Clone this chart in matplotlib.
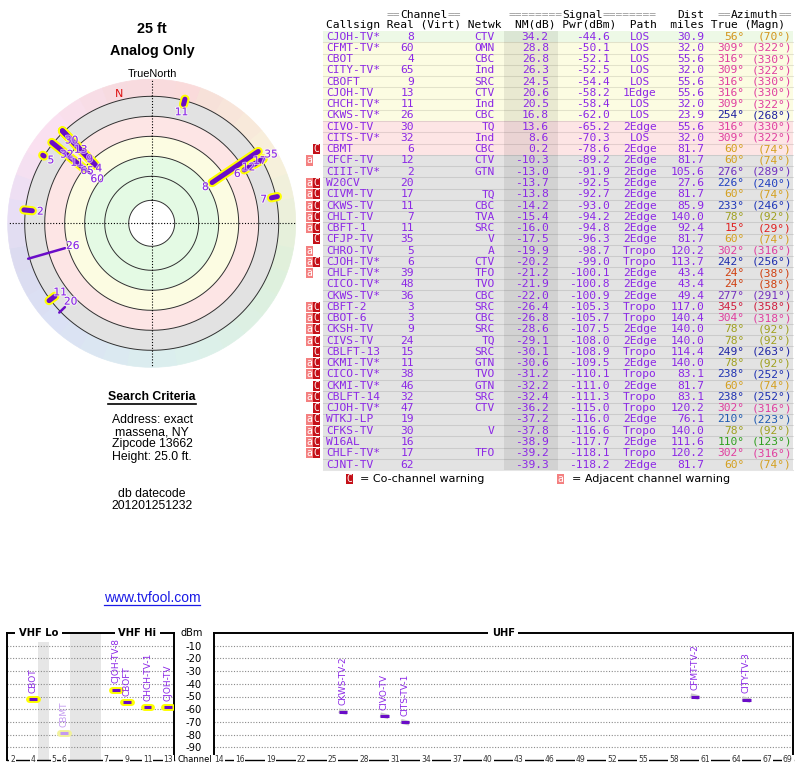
import numpy as np
import matplotlib
matplotlib.use("Agg")
import matplotlib.pyplot as plt
from matplotlib.patches import Rectangle
import matplotlib.patheffects as pe
from matplotlib.colors import to_rgb

# ---------------- data ----------------
callsigns = ["CJOH-TV*", "CFMT-TV*", "CBOT", "CITY-TV*", "CBOFT", "CJOH-TV", "CHCH-TV*", "CKWS-TV*",
             "CIVO-TV", "CITS-TV*", "CBMT", "CFCF-TV", "CIII-TV*", "W20CV", "CIVM-TV", "CKWS-TV",
             "CHLT-TV", "CBFT-1", "CFJP-TV", "CHRO-TV", "CJOH-TV*", "CHLF-TV*", "CICO-TV*", "CKWS-TV*",
             "CBFT-2", "CBOT-6", "CKSH-TV", "CIVS-TV", "CBLFT-13", "CKMI-TV*", "CICO-TV*", "CKMI-TV*",
             "CBLFT-14", "CJOH-TV*", "WTKJ-LP", "CFKS-TV", "W16AL", "CHLF-TV*", "CJNT-TV"]
real = [8, 60, 4, 65, 9, 13, 11, 26, 30, 32, 6, 12, 2, 20, 17, 11, 7, 11, 35, 5, 6, 39, 48, 36,
        3, 3, 9, 24, 15, 11, 38, 46, 32, 47, 19, 30, 16, 17, 62]
netwk = ["CTV", "OMN", "CBC", "Ind", "SRC", "CTV", "Ind", "CBC", "TQ", "Ind", "CBC", "CTV", "GTN", "",
         "TQ", "CBC", "TVA", "SRC", "V", "A", "CTV", "TFO", "TVO", "CBC", "SRC", "CBC", "SRC", "TQ",
         "SRC", "GTN", "TVO", "GTN", "SRC", "CTV", "", "V", "", "TFO", ""]
nm_db = [34.2, 28.8, 26.8, 26.3, 24.5, 20.6, 20.5, 16.8, 13.6, 8.6, 0.2, -10.3, -13.0, -13.7, -13.8,
         -14.2, -15.4, -16.0, -17.5, -19.9, -20.2, -21.2, -21.9, -22.0, -26.4, -26.8, -28.6, -29.1,
         -30.1, -30.6, -31.2, -32.2, -32.4, -36.2, -37.2, -37.8, -38.9, -39.2, -39.3]
pwr_dbm = [-44.6, -50.1, -52.1, -52.5, -54.4, -58.2, -58.4, -62.0, -65.2, -70.3, -78.6, -89.2, -91.9,
           -92.5, -92.7, -93.0, -94.2, -94.8, -96.3, -98.7, -99.0, -100.1, -100.8, -100.9, -105.3,
           -105.7, -107.5, -108.0, -108.9, -109.5, -110.1, -111.0, -111.3, -115.0, -116.0, -116.6,
           -117.7, -118.1, -118.2]
path = ["LOS", "LOS", "LOS", "LOS", "LOS", "1Edge", "LOS", "LOS", "2Edge", "LOS", "2Edge", "2Edge",
        "2Edge", "2Edge", "2Edge", "2Edge", "2Edge", "2Edge", "2Edge", "Tropo", "Tropo", "2Edge",
        "2Edge", "2Edge", "Tropo", "Tropo", "2Edge", "2Edge", "Tropo", "2Edge", "Tropo", "2Edge",
        "Tropo", "Tropo", "2Edge", "Tropo", "2Edge", "Tropo", "2Edge"]
dist_mi = [30.9, 32.0, 55.6, 32.0, 55.6, 55.6, 32.0, 23.9, 55.6, 32.0, 81.7, 81.7, 105.6, 27.6, 81.7,
           85.9, 140.0, 92.4, 81.7, 120.2, 113.7, 43.4, 43.4, 49.4, 117.0, 140.4, 140.0, 140.0, 114.4,
           140.0, 83.1, 81.7, 83.1, 120.2, 76.1, 140.0, 111.6, 120.2, 81.7]
az_true = [56, 309, 316, 309, 316, 316, 309, 254, 316, 309, 60, 60, 276, 226, 60, 233, 78, 15, 60, 302,
           242, 24, 24, 277, 345, 304, 78, 78, 249, 78, 238, 60, 238, 302, 210, 78, 110, 302, 60]
az_magn = [70, 322, 330, 322, 330, 330, 322, 268, 330, 322, 74, 74, 289, 240, 74, 246, 92, 29, 74, 316,
           256, 38, 38, 291, 358, 318, 92, 92, 263, 92, 252, 74, 252, 316, 223, 92, 123, 316, 74]
warnings = ["", "", "", "", "", "", "", "", "", "", "C", "a", "", "aC", "aC", "aC", "aC", "aC", "C", "a",
            "aC", "a", "", "", "aC", "aC", "aC", "aC", "C", "aC", "aC", "C", "aC", "C", "aC", "aC", "aC",
            "aC", ""]

chart_names = ["CJOH-TV-8", "CFMT-TV-2", "CBOT", "CITY-TV-3", "CBOFT", "CJOH-TV", "CHCH-TV-1",
               "CKWS-TV-2", "CIVO-TV", "CITS-TV-1", "CBMT"]
dbm_ticks = [-10, -20, -30, -40, -50, -60, -70, -80, -90]
vhf_tick_channels = [2, 4, 5, 6, 7, 9, 11, 13]
uhf_tick_channels = [14, 16, 19, 22, 25, 28, 31, 34, 37, 40, 43, 46, 49, 52, 55, 58, 61, 64, 67, 69]
ring_levels = [60, 40, 20, 0, -20]
magnetic_declination = 14

search_lines = ["Address: exact", "massena, NY", "Zipcode 13662", "Height: 25.0 ft."]
datecode_lines = ["db datecode", "201201251232"]

# ---------------- style ----------------
W, H = 800, 768
PURPLE = "#8c28e6"
MARK = "#6a0cc8"
YELLOW = "#ffff00"
MONO = "DejaVu Sans Mono"
SANS = "Liberation Sans"
FS_MONO = 8.07
CW = 6.75
X0 = 326
ROW0 = 31.0
RH = 11.26

AZ_ANCHORS = [(0, '#d82030'), (15, '#e02020'), (24, '#d04010'), (60, '#d4a020'), (78, '#a0a020'),
              (110, '#30a020'), (170, '#20a090'), (226, '#2040c0'), (240, '#2030b0'), (254, '#2020a0'),
              (276, '#7030c0'), (302, '#e040a0'), (316, '#e040a0'), (345, '#d02040'), (360, '#d82030')]


def az_color(a):
    a = a % 360
    for (a0, c0), (a1, c1) in zip(AZ_ANCHORS[:-1], AZ_ANCHORS[1:]):
        if a0 <= a <= a1:
            t = (a - a0) / (a1 - a0)
            r0 = np.array(to_rgb(c0)); r1 = np.array(to_rgb(c1))
            return tuple(r0 + (r1 - r0) * t)
    return to_rgb(AZ_ANCHORS[0][1])


def halo_color(a, k=0.84):
    c = np.array(az_color(a))
    return tuple(c * (1 - k) + k)


def row_bg(v):
    if v >= 30:
        return '#edf9e6'
    if v >= 15:
        return '#fcfce2'
    if v >= 0:
        return '#fde5e5'
    return '#e3e3e3'


def cx(i):
    return X0 + i * CW


plt.rcParams['font.family'] = ['DejaVu Sans']
fig = plt.figure(figsize=(W / 100, H / 100), dpi=100)
ax = fig.add_axes([0, 0, 1, 1])
ax.set_xlim(0, W)
ax.set_ylim(H, 0)
ax.axis('off')

# ---------------- table ----------------
n = len(callsigns)
for i in range(n):
    top = ROW0 + i * RH
    ax.add_patch(Rectangle((323, top), 470, RH, facecolor=row_bg(nm_db[i]), edgecolor='none', zorder=1))
    ax.plot([323, 793], [top + RH, top + RH], color='k', alpha=0.1, lw=0.8, zorder=2)
ax.add_patch(Rectangle((504, ROW0), 54, n * RH, facecolor='k', alpha=0.075, edgecolor='none', zorder=2))

kw = dict(fontfamily=MONO, fontsize=FS_MONO, va='center', zorder=3)
for i in range(n):
    y = ROW0 + (i + 0.5) * RH
    ax.text(cx(0), y, callsigns[i], ha='left', color=PURPLE, **kw)
    ax.text(cx(13), y, str(real[i]), ha='right', color=PURPLE, **kw)
    ax.text(cx(25), y, netwk[i], ha='right', color=PURPLE, **kw)
    ax.text(cx(33), y, f"{nm_db[i]:.1f}", ha='right', color=PURPLE, **kw)
    ax.text(cx(42), y, f"{pwr_dbm[i]:.1f}", ha='right', color=PURPLE, **kw)
    ax.text(cx(46.5), y, path[i], ha='center', color=PURPLE, **kw)
    ax.text(cx(56), y, f"{dist_mi[i]:.1f}", ha='right', color=PURPLE, **kw)
    c = az_color(az_true[i])
    ax.text(cx(62), y, f"{az_true[i]}°", ha='right', color=c, **kw)
    ax.text(cx(69), y, f"({az_magn[i]}°)", ha='right', color=c, **kw)
    top = ROW0 + i * RH
    if 'C' in warnings[i]:
        ax.add_patch(Rectangle((312.8, top + 0.6), 6.7, RH - 1.2, facecolor='#c41018', edgecolor='none', zorder=3))
        ax.text(316.15, y, 'C', ha='center', color='white', fontfamily=MONO, fontsize=7, va='center', zorder=4)
    if 'a' in warnings[i]:
        ax.add_patch(Rectangle((306.1, top + 0.6), 6.7, RH - 1.2, facecolor='#f48080', edgecolor='none', zorder=3))
        ax.text(309.45, y, 'a', ha='center', color='white', fontfamily=MONO, fontsize=7, va='center', zorder=4)

# headers
GRAY = '#9a9a9a'
hy1, hy2 = 15.5, 25.5
hk = dict(fontfamily=MONO, fontsize=FS_MONO, va='center', ha='left')
ax.text(cx(9), hy1, "==", color=GRAY, **hk)
ax.text(cx(11), hy1, "Channel", color='k', **hk)
ax.text(cx(18), hy1, "==", color=GRAY, **hk)
ax.text(cx(27), hy1, "========", color=GRAY, **hk)
ax.text(cx(35), hy1, "Signal", color='k', **hk)
ax.text(cx(41), hy1, "========", color=GRAY, **hk)
ax.text(cx(52), hy1, "Dist", color='k', **hk)
ax.text(cx(58), hy1, "==", color=GRAY, **hk)
ax.text(cx(60), hy1, "Azimuth", color='k', **hk)
ax.text(cx(67), hy1, "==", color=GRAY, **hk)
ax.text(cx(0), hy2, "Callsign Real (Virt) Netwk  NM(dB) Pwr(dBm)  Path  miles True (Magn)", color='k', **hk)

# legend
ly = 479
ax.add_patch(Rectangle((346, ly - 5), 6.7, 10, facecolor='#c41018', edgecolor='none'))
ax.text(349.35, ly, 'C', ha='center', va='center', color='white', fontfamily=MONO, fontsize=7)
ax.text(360, ly, "= Co-channel warning", ha='left', va='center', fontsize=8)
ax.add_patch(Rectangle((557, ly - 5), 6.7, 10, facecolor='#f48080', edgecolor='none'))
ax.text(560.35, ly, 'a', ha='center', va='center', color='white', fontfamily=MONO, fontsize=7)
ax.text(572, ly, "= Adjacent channel warning", ha='left', va='center', fontsize=8)

# ---------------- left texts ----------------
ax.text(152, 29, "25 ft", ha='center', va='center', fontfamily=SANS, fontweight='bold', fontsize=10.4)
ax.text(152, 51, "Analog Only", ha='center', va='center', fontfamily=SANS, fontweight='bold', fontsize=10.4)
ax.text(152, 74, "TrueNorth", ha='center', va='center', fontfamily=SANS, fontsize=7.9)
t_sc = ax.text(152, 397.5, "Search Criteria", ha='center', va='center', fontfamily=SANS, fontweight='bold', fontsize=8.8)
for k, s in enumerate(search_lines):
    ax.text(152, 420 + k * 12.2, s, ha='center', va='center', fontfamily=SANS, fontsize=8.8)
for k, s in enumerate(datecode_lines):
    ax.text(152, 494 + k * 11.8, s, ha='center', va='center', fontfamily=SANS, fontsize=8.8)
t_url = ax.text(152, 598, "www.tvfool.com", ha='center', va='center', fontfamily=SANS, fontsize=10, color='#1a1ae6')

# ---------------- polar ----------------
CX, CY, RMAX = 151.7, 223.3, 150
pax = fig.add_axes([(CX - RMAX) / W, (H - CY - RMAX) / H, 2 * RMAX / W, 2 * RMAX / H], projection='polar')
pax.set_theta_zero_location('N')
pax.set_theta_direction(-1)
pax.set_ylim(0, RMAX)
pax.set_axis_off()

R0 = 107.0
CENTER_R = 23
R_OUT = 127
HALO = 144
R_END = 128.5


def rad(v):
    return R0 - v


# halo
for a in range(0, 360, 10):
    col = halo_color(a + 5)
    pax.bar(np.deg2rad(a + 5), HALO - R_OUT, width=np.deg2rad(10), bottom=R_OUT,
            color=col, edgecolor=col, lw=0.5, zorder=1)
bands = [(rad(-20), rad(0), '#e2e2e2'), (rad(0), rad(20), '#fde5e5'),
         (rad(20), rad(40), '#fcfce2'), (rad(40), CENTER_R, '#e4fae4')]
for r_hi, r_lo, col in bands:
    pax.bar(0, r_hi - r_lo, width=2 * np.pi, bottom=r_lo, color=col, edgecolor='none', zorder=1)
pax.bar(0, CENTER_R, width=2 * np.pi, bottom=0, color='white', edgecolor='none', zorder=1)
th = np.linspace(0, 2 * np.pi, 361)
for lv in ring_levels:
    pax.plot(th, np.full_like(th, rad(lv)), color='#303030', lw=0.7, zorder=2)
pax.plot(th, np.full_like(th, CENTER_R), color='#303030', lw=0.7, zorder=2)
for t in [0, np.pi / 2, np.pi, 3 * np.pi / 2]:
    pax.plot([t, t], [0, HALO], color='k', lw=0.8, ls=(0, (1, 1.6)), zorder=2, clip_on=False)

show = [i for i in range(n) if nm_db[i] >= -20]
for i in show:
    if real[i] <= 13:
        t = np.deg2rad(az_true[i])
        pax.plot([t, t], [rad(nm_db[i]), R_END], color=YELLOW, lw=6.6, solid_capstyle='round', zorder=3, clip_on=False)
for i in show:
    t = np.deg2rad(az_true[i])
    lw = 3.6 if real[i] <= 13 else 1.8
    pax.plot([t, t], [rad(nm_db[i]), R_END], color=MARK, lw=lw, solid_capstyle='round', zorder=4, clip_on=False)


def label_xy(a, r):
    t = np.deg2rad(a)
    return CX + r * np.sin(t), CY - r * np.cos(t)


def clash(a1, r1, s1, a2, r2, s2):
    x1, y1 = label_xy(a1, r1)
    x2, y2 = label_xy(a2, r2)
    return abs(x1 - x2) < 2.6 * (len(s1) + len(s2)) and abs(y1 - y2) < 10.5


placed = []
for i in sorted(show, key=lambda j: rad(nm_db[j])):
    s = str(real[i])
    rl = rad(nm_db[i]) - 8
    for a2, r2, s2 in placed:
        if abs(((az_true[i] - a2 + 180) % 360) - 180) < 5 and rl < r2 + 13:
            rl = r2 + 13
    for _ in range(40):
        if any(abs(((az_true[i] - a2 + 180) % 360) - 180) >= 5 and clash(az_true[i], rl, s, a2, r2, s2)
               for a2, r2, s2 in placed):
            rl += 0.5
        else:
            break
    placed.append((az_true[i], rl, s))
    pax.text(np.deg2rad(az_true[i]), rl, s, ha='center', va='center', fontsize=7.6,
             color=PURPLE, zorder=6, clip_on=False,
             path_effects=[pe.withStroke(linewidth=1.5, foreground=(1, 1, 1, 0.6))])
pax.text(np.deg2rad(360 - magnetic_declination), 133, 'N', ha='center', va='center', fontsize=8,
         color='#dd1010', zorder=6)

# ---------------- bottom band chart ----------------
def ch_slot(ch):
    if ch <= 4:
        return ch - 2
    if ch <= 6:
        return ch - 1
    return ch + 2


def band_axes(x0, x1):
    a = fig.add_axes([x0 / W, (H - 760) / H, (x1 - x0) / W, (760 - 633) / H])
    a.set_ylim(-100, 0)
    a.set_yticks(dbm_ticks)
    a.grid(axis='y', color='#8a8a8a', ls=(0, (1, 1.5)), lw=0.8)
    a.set_xticks([])
    a.tick_params(axis='y', length=0)
    for s in ['left', 'right', 'top']:
        a.spines[s].set_linewidth(1.4)
    a.spines['bottom'].set_linewidth(1.0)
    a.set_axisbelow(True)
    return a


vax = band_axes(7.3, 173.5)
vax.set_xlim(-0.5, 15.5)
vax.set_yticklabels([])
vax.axvspan(2.5, 3.5, color='#e6e6e6', zorder=0, lw=0)
vax.axvspan(5.5, 8.5, color='#e6e6e6', zorder=0, lw=0)

uax = band_axes(213.8, 793)
uax.set_xlim(13.5, 69.5)
uax.set_yticklabels([str(v) for v in dbm_ticks])
uax.tick_params(axis='y', pad=8.5, labelsize=7.2)

tkw = dict(ha='center', va='center', fontsize=5.5, color='#333333', clip_on=False,
           bbox=dict(facecolor='white', edgecolor='none', pad=0.6))
for ch in vhf_tick_channels:
    vax.text(ch_slot(ch), -100, str(ch), **tkw)
for ch in uhf_tick_channels:
    uax.text(ch, -100, str(ch), **tkw)

bkw = dict(ha='center', va='center', fontsize=7.2, fontweight='bold', clip_on=False,
           bbox=dict(facecolor='white', edgecolor='none', pad=2.5))
vax.text(2.5, 0, "VHF Lo", **bkw)
vax.text(12, 0, "VHF Hi", **bkw)
uax.text(41.5, 0, "UHF", **bkw)
ax.text(192, 633, "dBm", ha='center', va='center', fontsize=7)
ax.text(194.5, 759.5, "Channel", ha='center', va='center', fontsize=6)

for k, name in enumerate(chart_names):
    ch, p = real[k], pwr_dbm[k]
    faded = nm_db[k] < 1
    if ch <= 13:
        a, x, hw = vax, ch_slot(ch), 0.38
    else:
        a, x, hw = uax, ch, 0.4
    core = '#c39af0' if faded else MARK
    lab = '#c39af0' if faded else PURPLE
    if ch <= 13:
        a.plot([x - hw, x + hw], [p, p], color='#f2f29a' if faded else YELLOW, lw=5, solid_capstyle='round', zorder=3)
    else:
        a.plot([x - hw, x + hw], [p + 0.8, p - 0.8], color='#c8c8c8', lw=3.4, solid_capstyle='butt', zorder=3)
    a.plot([x - hw, x + hw], [p, p], color=core, lw=2.2, solid_capstyle='butt', zorder=4)
    a.annotate(name, (x, p), xytext=(0, 4.5), textcoords='offset points', rotation=90,
               ha='center', va='bottom', fontsize=6.5, color=lab, zorder=5)

# underlines
fig.canvas.draw()
rend = fig.canvas.get_renderer()
inv = ax.transData.inverted()
for t, dy, col, lw in [(t_sc, 6.5, 'k', 1.2), (t_url, 7, '#1a1ae6', 0.9)]:
    bb = t.get_window_extent(rend)
    (x0, _), (x1, _) = inv.transform([[bb.x0, bb.y0], [bb.x1, bb.y0]])
    y0 = t.get_position()[1] + dy
    ax.plot([x0, x1], [y0, y0], color=col, lw=lw)

fig.savefig("out.png", dpi=100)
